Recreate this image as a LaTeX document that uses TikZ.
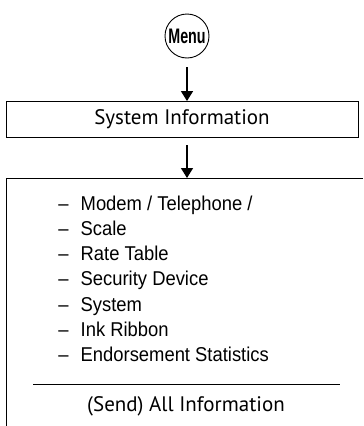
\documentclass[tikz,border=0pt]{standalone}
\usepackage{fontspec}
\setmainfont{PT Sans}
\newfontfamily\narrowfont[FakeStretch=0.92]{Liberation Sans}
\newfontfamily\menufont[FakeStretch=0.68]{Liberation Sans Bold}
\usetikzlibrary{arrows.meta}
\tikzset{
  flowarrow/.style={-{Triangle[width=12pt,length=10pt]}, line width=1.4pt},
  listitem/.style={anchor=base west, inner sep=0pt, font=\narrowfont\fontsize{20}{20}\selectfont},
}
\begin{document}
\begin{tikzpicture}[x=1pt, y=-1pt, line width=0.9pt]
  \useasboundingbox (0,0) rectangle (364,426);
  % Menu key and first step
  \node[draw, circle, minimum size=44pt, inner sep=0pt, font=\menufont\fontsize{21}{21}\selectfont] (menu) at (187,36) {Menu};
  \node[draw, rectangle, minimum width=352pt, minimum height=36pt, inner sep=0pt, font=\fontsize{21}{21}\selectfont] (sysinfo) at (182,119.5) {System Information};
  \draw[flowarrow] (187,67) -- (sysinfo.north -| 187,0);
  % open box with the list
  \coordinate (listtop) at (187,178);
  \draw (363,178) -- (6,178) -- (6,426);
  \draw[flowarrow] (187,145) -- (listtop);
  \node[listitem] (modem) at (58,210) {\textendash\hspace{12pt}Modem / Telephone /};
  \node[listitem] (scale) at (58,235.3) {\textendash\hspace{12pt}Scale};
  \node[listitem] (rate) at (58,260.6) {\textendash\hspace{12pt}Rate Table};
  \node[listitem] (secdev) at (58,285.9) {\textendash\hspace{12pt}Security Device};
  \node[listitem] (system) at (58,311.2) {\textendash\hspace{12pt}System};
  \node[listitem] (ribbon) at (58,336.5) {\textendash\hspace{12pt}Ink Ribbon};
  \node[listitem] (endorse) at (58,361.8) {\textendash\hspace{12pt}Endorsement Statistics};
  \draw (33,384) -- (340,384);
  \node[font=\fontsize{21}{21}\selectfont] (sendall) at (186,406) {(Send) All Information};
\end{tikzpicture}
\end{document}
